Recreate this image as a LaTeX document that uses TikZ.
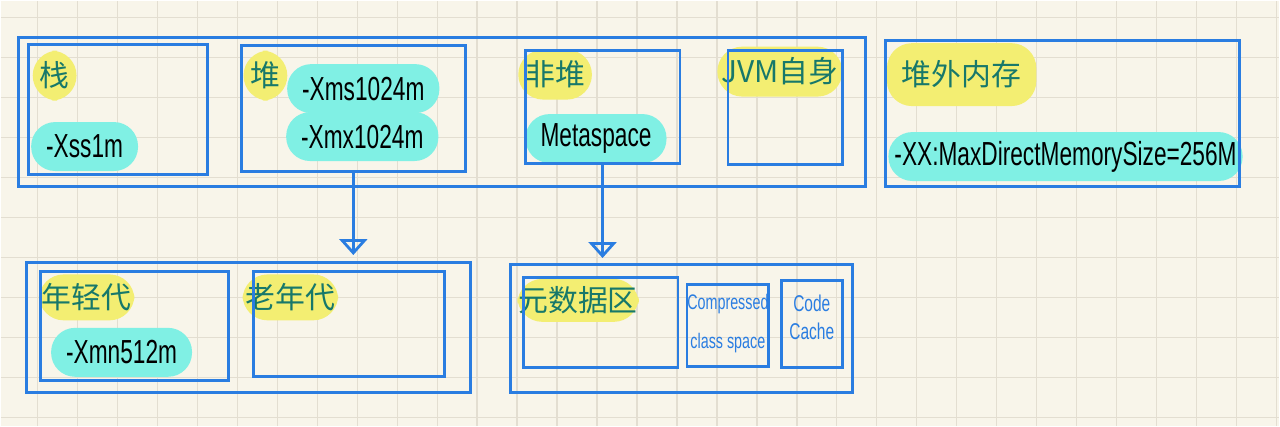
\documentclass[tikz,border=0pt]{standalone}
\usepackage{fontspec}
\setmainfont{Liberation Sans}
\newfontfamily\cnfont{Noto Sans CJK SC}
\newfontfamily\handfont[FakeStretch=0.68]{Liberation Sans}
\usetikzlibrary{arrows.meta}

\definecolor{paper}{HTML}{F8F5EA}
\definecolor{gridc}{HTML}{E3DED1}
\definecolor{penblue}{HTML}{2A7DE1}
\definecolor{inkteal}{HTML}{17786A}
\definecolor{hlyellow}{HTML}{F3EE72}
\definecolor{hlcyan}{HTML}{80F0E4}

\begin{document}
\begin{tikzpicture}

% Paper and grid
\fill[paper] (0,0) rectangle (25.6,8.52);
\draw[gridc, line width=0.8pt, step=0.8, shift={(0.74,0.18)}] (-0.74,-0.18) grid (24.86,8.34);

\tikzset{CnLabel/.style={rectangle, rounded corners=0.5cm, fill=hlyellow, text=inkteal,
        inner xsep=0.14cm, minimum height=1.0cm, font=\cnfont\fontsize{17}{19}\selectfont}}
\tikzset{ParamLabel/.style={rectangle, rounded corners=0.48cm, fill=hlcyan, text=black,
        inner xsep=0.3cm, minimum height=0.98cm, font=\handfont\fontsize{19}{21}\selectfont}}
\tikzset{PenLabel/.style={text=penblue, align=center, inner sep=0pt}}

% Yellow titles
\node (LStack) at (1.08,7.02) [CnLabel] {栈};
\node (LHeap) at (5.30,7.02) [CnLabel] {堆};
\node (LNonHeap) at (11.10,7.04) [CnLabel] {非堆};
\node (LJVMSelf) at (15.60,7.10) [CnLabel, inner xsep=0.08cm] {JVM自身};
\node (LOffHeap) at (19.24,7.04) [CnLabel, minimum height=1.26cm, inner xsep=0.3cm] {堆外内存};
\node (LYoung) at (1.72,2.58) [CnLabel, minimum height=0.92cm, inner xsep=0.06cm] {年轻代};
\node (LOld) at (5.80,2.58) [CnLabel, minimum height=0.92cm, inner xsep=0.06cm] {老年代};
\node (LMeta) at (11.56,2.52) [CnLabel, minimum height=0.86cm, inner xsep=0.02cm] {元数据区};

% Cyan parameters
\node (Xss) at (1.68,5.60) [ParamLabel] {-Xss1m};
\node (Xms) at (7.26,6.76) [ParamLabel] {-Xms1024m};
\node (Xmx) at (7.24,5.80) [ParamLabel] {-Xmx1024m};
\node (MetaSp) at (11.92,5.76) [ParamLabel] {Metaspace};
\node (MaxDirect) at (21.32,5.40) [ParamLabel, inner xsep=0.12cm] {-XX:MaxDirectMemorySize=256M};
\node (Xmn) at (2.42,1.48) [ParamLabel] {-Xmn512m};

% Blue handwritten notes
\node (LCCS) at (14.56,2.06) [PenLabel, font=\handfont\fontsize{12}{22}\selectfont] {Compressed\\class space};
\node (LCode) at (16.24,2.18) [PenLabel, font=\handfont\fontsize{13}{16}\selectfont] {Code\\Cache};

\begin{scope}[every node/.style={rectangle,draw=penblue,line width=1.6pt}]
    % Top row rectangles
    \node (JVM) at (8.84,6.29) [minimum width=16.96cm, minimum height=2.98cm] {};
    \node (Stack) at (2.35,6.34) [minimum width=3.58cm, minimum height=2.60cm] {};
    \node (Heap) at (7.06,6.36) [minimum width=4.48cm, minimum height=2.52cm] {};
    \node (NonHeap) at (12.05,6.39) [minimum width=3.10cm, minimum height=2.26cm] {};
    \node (JVMSelf) at (15.71,6.38) [minimum width=2.30cm, minimum height=2.28cm] {};
    \node (OffHeap) at (21.26,6.26) [minimum width=7.08cm, minimum height=2.92cm] {};

    % Bottom row - heap generations
    \node (Gen) at (4.96,1.98) [minimum width=8.88cm, minimum height=2.60cm] {};
    \node (Young) at (2.68,2.01) [minimum width=3.76cm, minimum height=2.18cm] {};
    \node (Old) at (6.97,2.05) [minimum width=3.82cm, minimum height=2.10cm] {};

    % Bottom row - metaspace
    \node (MetaArea) at (13.63,1.96) [minimum width=6.86cm, minimum height=2.56cm] {};
    \node (Meta) at (12.01,2.08) [minimum width=3.10cm, minimum height=1.80cm] {};
    \node (CCS) at (14.56,2.02) [minimum width=1.64cm, minimum height=1.64cm] {};
    \node (CodeCache) at (16.25,2.05) [minimum width=1.22cm, minimum height=1.74cm] {};
\end{scope}

\begin{scope}[>={Triangle[open, width=0.56cm, length=0.32cm]},
              every edge/.style={draw=penblue, line width=1.6pt}]
    \draw [->, penblue, line width=1.6pt, shorten >=0.12cm, postaction={draw, -, shorten >=0.16cm}]
        (Heap.south) -- (Heap.south |- Gen.north);
    \draw [->, penblue, line width=1.6pt, shorten >=0.1cm, postaction={draw, -, shorten >=0.14cm}]
        (NonHeap.south) -- (NonHeap.south |- MetaArea.north);
\end{scope}

\end{tikzpicture}
\end{document}
